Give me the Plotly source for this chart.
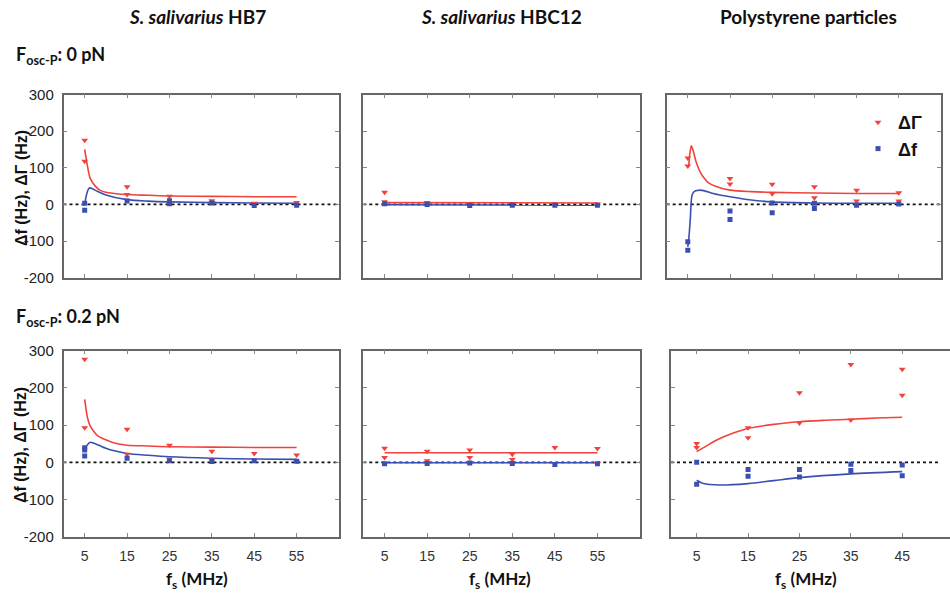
import plotly.graph_objects as go

# ---------------- data ----------------
hb7_0_gamma_x = [5, 5, 15, 15, 25, 25, 35, 35, 45, 55]
hb7_0_gamma_y = [175, 118, 48, 27, 22, 3, 10, 5, 3, 5]
hb7_0_df_x = [5, 5, 15, 25, 25, 35, 45, 55]
hb7_0_df_y = [3, -16, 9, 10, 2, 4, -3, -2]
hb7_0_gfit_x = [5, 5.5, 6.3, 7.5, 8.6, 10, 12, 15, 20, 25, 35, 45, 55]
hb7_0_gfit_y = [150, 115, 71, 50, 39, 33, 30, 27, 25, 23, 22, 21, 21]
hb7_0_ffit_x = [5, 5.4, 5.8, 6.1, 6.8, 8, 10, 15, 20, 25, 35, 45, 55]
hb7_0_ffit_y = [0, 25, 40, 45, 43, 36, 26, 13, 9, 7, 5, 4, 3]

hbc12_0_gamma_x = [5, 5, 15, 25, 35, 45, 55]
hbc12_0_gamma_y = [33, 7, 5, 2, 2, 1, 1]
hbc12_0_df_x = [5, 15, 25, 35, 45, 55]
hbc12_0_df_y = [2, 0, -3, -2, -2, -2]
hbc12_0_gfit_x = [5, 55]
hbc12_0_gfit_y = [5, 4]
hbc12_0_ffit_x = [5, 55]
hbc12_0_ffit_y = [-1, -2]

ps_0_gamma_x = [5, 5, 15, 15, 25, 25, 35, 35, 45, 45, 55, 55]
ps_0_gamma_y = [127, 105, 71, 56, 55, 29, 48, 18, 39, 9, 32, 9]
ps_0_df_x = [5, 5, 15, 15, 25, 25, 35, 35, 45, 55]
ps_0_df_y = [-102, -125, -18, -41, 4, -23, 3, -11, -2, 1]
ps_0_gfit_x = [5.2, 5.5, 5.85, 6.3, 7, 7.9, 9, 10, 11.9, 15, 20, 25, 35, 45, 55]
ps_0_gfit_y = [103, 140, 160, 145, 115, 89, 70, 58, 48, 39, 35, 33, 31, 30, 30]
ps_0_ffit_x = [5, 5.3, 5.6, 6.0, 6.5, 7.2, 7.9, 9, 11, 15, 20, 25, 35, 45, 55]
ps_0_ffit_y = [-116, -85, -38, 25, 35, 38, 39, 37, 30, 21, 12, 7, 4, 3, 3]

hb7_2_gamma_x = [5, 5, 15, 15, 25, 25, 35, 35, 45, 55, 55]
hb7_2_gamma_y = [277, 93, 89, 22, 46, 9, 30, 6, 24, 20, 3]
hb7_2_df_x = [5, 5, 5, 15, 25, 35, 45, 55]
hb7_2_df_y = [39, 33, 17, 11, 4, 2, 4, 3]
hb7_2_gfit_x = [5, 5.3, 5.6, 6.2, 6.9, 8, 10.1, 12, 15, 20, 25, 35, 45, 55]
hb7_2_gfit_y = [169, 145, 123, 100, 87, 72, 60, 52, 46, 44, 42, 41, 40, 40]
hb7_2_ffit_x = [5, 5.5, 6.3, 7, 8.5, 10, 12, 15, 20, 25, 35, 45, 55]
hb7_2_ffit_y = [29, 45, 54, 52, 45, 38, 31, 24, 19, 15, 11, 9, 8]

hbc12_2_gamma_x = [5, 5, 15, 15, 25, 25, 35, 35, 45, 55, 55]
hbc12_2_gamma_y = [38, 13, 30, 4, 33, 13, 22, 8, 40, 37, -3]
hbc12_2_df_x = [5, 15, 25, 35, 45, 55]
hbc12_2_df_y = [-4, -3, -2, -3, -6, -4]
hbc12_2_gfit_x = [5, 55]
hbc12_2_gfit_y = [26, 26]
hbc12_2_ffit_x = [5, 55]
hbc12_2_ffit_y = [-1, -1]

ps_2_gamma_x = [5, 5, 15, 15, 25, 25, 35, 35, 45, 45]
ps_2_gamma_y = [51, 40, 93, 66, 187, 106, 263, 114, 250, 180]
ps_2_df_x = [5, 5, 15, 15, 25, 25, 35, 35, 45, 45]
ps_2_df_y = [0, -59, -19, -37, -19, -39, -5, -22, -7, -36]
ps_2_gfit_x = [5, 7, 8.9, 12, 15, 20, 25, 30, 35, 40, 45]
ps_2_gfit_y = [29, 45, 60, 78, 91, 102, 109, 113, 116, 119, 121]
ps_2_ffit_x = [5, 6.3, 9.5, 15, 20, 25, 35, 45]
ps_2_ffit_y = [-48, -57, -61, -57, -49, -41, -31, -25]

x_ticks = [5, 15, 25, 35, 45, 55]
x_ticks_ps = [5, 15, 25, 35, 45]
y_ticks = [-200, -100, 0, 100, 200, 300]
y_tick_text = ["-200", "-100", "0", "100", "200", "300"]
col_titles = ["<i>S. salivarius</i> HB7", "<i>S. salivarius</i> HBC12", "Polystyrene particles"]
row_titles = ["F<sub>osc-P</sub>: 0 pN", "F<sub>osc-P</sub>: 0.2 pN"]
y_title = "Δf (Hz), ΔΓ (Hz)"
x_title = "f<sub>s</sub> (MHz)"
legend_names = ["<b>ΔΓ</b>", "<b>Δf</b>"]

panels = [
    (hb7_0_gamma_x, hb7_0_gamma_y, hb7_0_df_x, hb7_0_df_y, hb7_0_gfit_x, hb7_0_gfit_y, hb7_0_ffit_x, hb7_0_ffit_y),
    (hbc12_0_gamma_x, hbc12_0_gamma_y, hbc12_0_df_x, hbc12_0_df_y, hbc12_0_gfit_x, hbc12_0_gfit_y, hbc12_0_ffit_x, hbc12_0_ffit_y),
    (ps_0_gamma_x, ps_0_gamma_y, ps_0_df_x, ps_0_df_y, ps_0_gfit_x, ps_0_gfit_y, ps_0_ffit_x, ps_0_ffit_y),
    (hb7_2_gamma_x, hb7_2_gamma_y, hb7_2_df_x, hb7_2_df_y, hb7_2_gfit_x, hb7_2_gfit_y, hb7_2_ffit_x, hb7_2_ffit_y),
    (hbc12_2_gamma_x, hbc12_2_gamma_y, hbc12_2_df_x, hbc12_2_df_y, hbc12_2_gfit_x, hbc12_2_gfit_y, hbc12_2_ffit_x, hbc12_2_ffit_y),
    (ps_2_gamma_x, ps_2_gamma_y, ps_2_df_x, ps_2_df_y, ps_2_gfit_x, ps_2_gfit_y, ps_2_ffit_x, ps_2_ffit_y),
]

# ---------------- styling / layout ----------------
W, H = 950, 596
RED = "#f2423c"
BLUE = "#3a4fb0"
FRAME = "#666666"

def px_x(p):
    return p / W

def px_y(p):
    return 1 - p / H

x_domains = [
    [px_x(63.5), px_x(339)],
    [px_x(363.3), px_x(640)],
    [px_x(666.7), px_x(941)],
    [px_x(63.5), px_x(339)],
    [px_x(363.3), px_x(640)],
    [px_x(671), 1.0],
]
y_top = [px_y(277.7), px_y(94.5)]
y_bot = [px_y(536.8), px_y(350.7)]
y_domains = [y_top, y_top, y_top, y_bot, y_bot, y_bot]
x_ranges = [[0, 65]] * 5 + [[0, 54.3]]

fig = go.Figure()

for i, (gx, gy, fx, fy, gfx, gfy, ffx, ffy) in enumerate(panels):
    k = "" if i == 0 else str(i + 1)
    xa, ya = "x" + k, "y" + k
    fig.add_trace(go.Scatter(x=gfx, y=gfy, mode="lines", line=dict(color=RED, width=1.6, shape="spline", smoothing=0.8),
                             xaxis=xa, yaxis=ya, showlegend=False, hoverinfo="skip"))
    fig.add_trace(go.Scatter(x=ffx, y=ffy, mode="lines", line=dict(color=BLUE, width=1.6, shape="spline", smoothing=0.8),
                             xaxis=xa, yaxis=ya, showlegend=False, hoverinfo="skip"))
    fig.add_trace(go.Scatter(x=gx, y=gy, mode="markers", name=legend_names[0],
                             marker=dict(symbol="triangle-down", color=RED, size=6),
                             xaxis=xa, yaxis=ya, showlegend=(i == 2), legendrank=1))
    fig.add_trace(go.Scatter(x=fx, y=fy, mode="markers", name=legend_names[1],
                             marker=dict(symbol="square", color=BLUE, size=5),
                             xaxis=xa, yaxis=ya, showlegend=(i == 2), legendrank=2))
    fig.add_shape(type="line", xref=xa, yref=ya, x0=0, x1=(52 if i == 5 else 65), y0=0, y1=0,
                  line=dict(color="#111111", width=1.6, dash="dot"), layer="below")

layout = dict(
    width=W, height=H, autosize=False,
    margin=dict(l=0, r=0, t=0, b=0, pad=0, autoexpand=False),
    paper_bgcolor="white", plot_bgcolor="white",
    showlegend=True,
    legend=dict(x=px_x(858), y=px_y(104), xanchor="left", yanchor="top",
                bgcolor="rgba(0,0,0,0)", font=dict(family="Liberation Sans", size=18, color="#111"),
                tracegroupgap=0, itemwidth=30),
)

for i in range(6):
    k = "" if i == 0 else str(i + 1)
    bottom = i >= 3
    left = i in (0, 3)
    layout["xaxis" + k] = dict(
        domain=x_domains[i], range=x_ranges[i], anchor="y" + k,
        tickvals=(x_ticks_ps if i == 5 else x_ticks), showticklabels=bottom,
        ticks="inside", ticklen=4, tickcolor="#888", tickwidth=1,
        showline=True, linecolor=FRAME, linewidth=1.5, mirror="ticks" if i != 5 else "allticks",
        showgrid=False, zeroline=False, automargin=False,
        tickfont=dict(family="Liberation Sans Narrow, Arial Narrow, Liberation Sans", size=14, color="#333"),
        ticklabelstandoff=6,
    )
    layout["yaxis" + k] = dict(
        domain=y_domains[i], range=[-200, 300], anchor="x" + k,
        tickvals=y_ticks, ticktext=y_tick_text, showticklabels=left,
        ticks="inside", ticklen=4, tickcolor="#888", tickwidth=1,
        showline=True, linecolor=FRAME, linewidth=1.5, mirror=("ticks" if i != 5 else False),
        showgrid=False, zeroline=False, automargin=False,
        tickfont=dict(family="Liberation Sans", size=15, color="#222"),
        ticklabelstandoff=5,
    )

fig.update_layout(**layout)

TITLE_FONT = "Lato, Open Sans, Liberation Sans"
annotations = []
for cx, t in zip([197, 501, 808], col_titles):
    annotations.append(dict(x=px_x(cx), y=px_y(17), xref="paper", yref="paper", text="<b>" + t + "</b>",
                            showarrow=False, font=dict(family=TITLE_FONT, size=19, color="#111"),
                            xanchor="center", yanchor="middle"))
for cy, t in zip([55, 318], row_titles):
    annotations.append(dict(x=px_x(14), y=px_y(cy), xref="paper", yref="paper", text="<b>" + t + "</b>",
                            showarrow=False, font=dict(family=TITLE_FONT, size=18, color="#111"),
                            xanchor="left", yanchor="middle"))
for cy in [188, 445]:
    annotations.append(dict(x=px_x(21), y=px_y(cy), xref="paper", yref="paper", text="<b>" + y_title + "</b>",
                            showarrow=False, textangle=-90, font=dict(family="Liberation Sans", size=16, color="#111"),
                            xanchor="center", yanchor="middle"))
for cx in [197, 500, 806]:
    annotations.append(dict(x=px_x(cx), y=px_y(580), xref="paper", yref="paper", text="<b>" + x_title + "</b>",
                            showarrow=False, font=dict(family=TITLE_FONT, size=17, color="#111"),
                            xanchor="center", yanchor="middle"))
fig.update_layout(annotations=annotations)

fig.write_html("out.html", config={"displayModeBar": False},
               post_script="document.body.style.margin='0px';")
